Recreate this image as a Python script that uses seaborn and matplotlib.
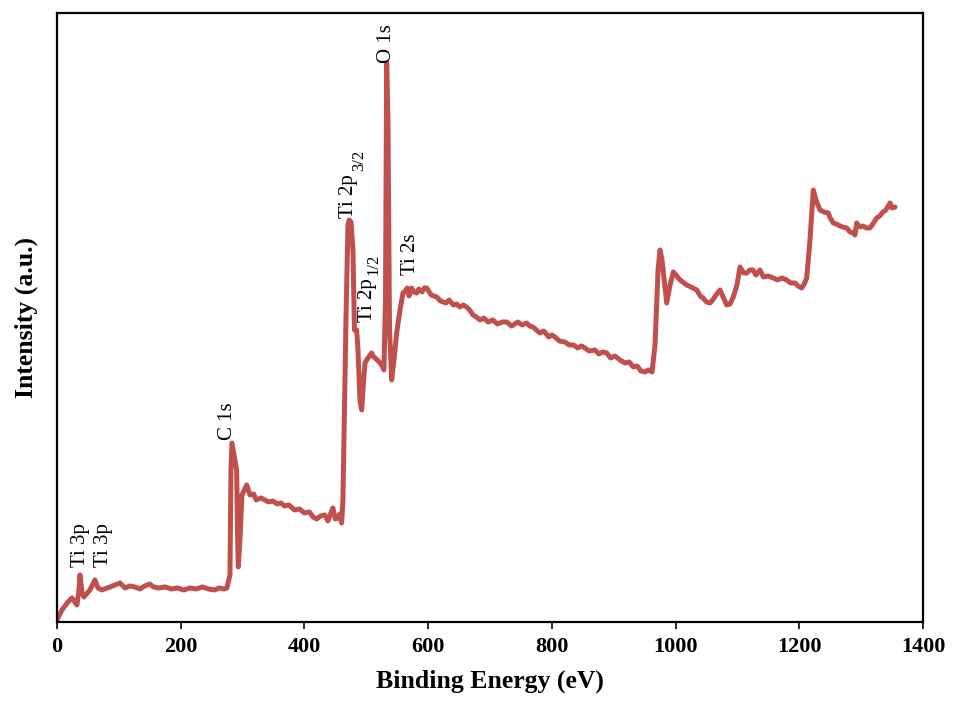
import matplotlib
matplotlib.use("Agg")
import matplotlib.pyplot as plt
import seaborn as sns
import pandas as pd

# Binding energy (eV) and intensity (a.u.)
energy = [0, 8.1, 17.8, 24.2, 32.3, 35.6, 37.2, 40.4, 43.6, 53.3, 61.4, 66.3, 72.7, 85.7,
          101.8, 110, 118, 126, 134, 142, 150, 156, 165, 175, 185, 195, 205, 215, 225, 235,
          245, 255, 262, 270, 274.8, 279.7, 281.3, 282.9,
          286.2, 290.5, 291.8, 293.1, 295.8, 299.1, 306.7, 312, 318, 322, 330, 336, 342, 349,
          356, 362, 368, 375, 384, 392, 400, 408, 414, 420, 426, 433, 438, 446, 450, 454,
          457, 460.2, 462.3, 463.9, 467.2, 470.4, 472.5,
          475.3, 478.5, 480.9, 484.5, 486.6, 489.8, 492.6, 494.7, 497.9, 502.8, 505, 508.7,
          511, 514.1, 518, 522.2, 525, 528.6, 531.1, 533.0, 535.1, 537.6, 541.1, 544.8, 549.2,
          554.5, 559.4, 563, 566.3, 569.1, 573.4, 577, 581.5, 585, 590.1, 594, 597.7, 605,
          613.8, 620, 628.9, 634, 640.7, 646, 651.5, 657, 662.3, 667, 672.5, 678, 683.8, 690,
          697, 704.8, 712, 720, 727, 735, 745.2, 752, 759.3, 764, 769.5, 775, 780.8, 787, 795,
          800, 805.1, 812, 821.2, 828, 834.7, 842, 848, 853.6, 860, 869.8, 876, 882, 888.7,
          895, 902, 910.2, 918, 925, 931.7, 938, 944, 950.6, 956, 962.0, 966.8, 971.7, 974.9,
          978.1, 985.7, 991.1, 996.4, 1007.2, 1018.1, 1025, 1034.2, 1040, 1044.4, 1050, 1055.7,
          1060, 1065.4, 1071.9, 1077, 1082.7, 1088, 1093.3, 1099.3, 1104.2, 1110, 1115.0,
          1120, 1125.2, 1130, 1136.5, 1142, 1150, 1158.0, 1165, 1172, 1179.6, 1186, 1193.1,
          1198, 1203.9, 1208, 1212.0, 1217.3, 1222.7, 1227.0, 1233.5, 1240, 1246.9, 1250,
          1255.0, 1260, 1265.8, 1270, 1276.6, 1282, 1287, 1290.0, 1292.8, 1298, 1303.0, 1308,
          1314.3, 1320, 1325.2, 1330, 1335.4, 1340, 1346.7, 1350, 1354.8]
intensity = [2, 12, 20, 24, 17, 32, 47, 30, 25, 32, 42, 34, 32, 35,
             39, 34, 36, 35, 33, 36, 38, 35, 34, 35, 33, 34, 32, 34, 33, 35,
             33, 32, 34, 33, 34, 47, 152, 179,
             167, 152, 92, 55, 82, 127, 137, 127, 128, 122, 124, 122, 120, 121,
             118, 119, 116, 117, 112, 113, 109, 110, 105, 103, 106, 107, 101, 114, 103, 104,
             108, 99, 122, 182, 302, 397, 402,
             400, 372, 292, 292, 272, 222, 212, 232, 259, 264, 266, 269,
             266, 264, 262, 259, 257, 252, 322, 559, 502, 292, 242, 262, 289,
             312, 329, 331, 334, 326, 334, 330, 329, 333, 330, 334, 334, 327,
             325, 321, 319, 322, 317, 318, 315, 317, 315, 312, 307, 305, 302, 304,
             300, 302, 298, 300, 300, 296, 300, 297, 299, 296, 295, 292, 289, 291, 285,
             287, 285, 281, 280, 277, 277, 274, 276, 274, 271, 272, 268, 270, 269,
             264, 266, 262, 259, 260, 255, 256, 251, 250, 252, 250, 277, 352, 372,
             362, 319, 337, 350, 342, 337, 335, 332, 326, 324, 320, 319,
             322, 327, 332, 325, 317, 318, 325, 337, 355, 349, 349,
             352, 352, 347, 352, 345, 346, 344, 342, 344, 342, 339, 339,
             336, 334, 338, 344, 382, 432, 422, 412, 410, 409, 404,
             399, 398, 396, 395, 394, 390, 389, 387, 399, 395, 396, 394,
             394, 399, 404, 406, 410, 412, 419, 414, 415]

# Peak labels (main text) and their subscripts
peak_labels = ["Ti 3p", "Ti 3p", "C 1s", "Ti 2p", "Ti 2p", "Ti 2s", "O 1s"]
label_x = [38.8, 76, 276.4, 472, 502.7, 571, 533.5]
label_y = [55, 55, 182, 404, 300, 347, 559]
sub_labels = ["3/2", "1/2"]
sub_x = [489, 511]
sub_y = [451, 347]

x_ticks = [0, 200, 400, 600, 800, 1000, 1200, 1400]

df = pd.DataFrame({"Binding Energy (eV)": energy, "Intensity (a.u.)": intensity})

sns.set_style("white")
plt.rcParams["font.family"] = ["Liberation Serif", "DejaVu Serif"]
plt.rcParams["text.color"] = "black"
plt.rcParams["axes.labelcolor"] = "black"
plt.rcParams["xtick.color"] = "black"

fig = plt.figure(figsize=(9.54, 7.02), dpi=100)
ax = fig.add_axes([0.0597, 0.1140, 0.9078, 0.8675])

sns.lineplot(data=df, x="Binding Energy (eV)", y="Intensity (a.u.)", ax=ax,
             color="#C0504D", linewidth=3.6, estimator=None, sort=False)

for t, x, y in zip(peak_labels, label_x, label_y):
    ax.text(x, y, t, rotation=90, ha="center", va="bottom", fontsize=15, color="black")
for t, x, y in zip(sub_labels, sub_x, sub_y):
    ax.text(x, y, t, rotation=90, ha="center", va="bottom", fontsize=12, color="black")

ax.set_xlim(0, 1400)
ax.set_ylim(0, 609)
ax.set_xticks(x_ticks)
ax.set_xticklabels([str(v) for v in x_ticks], fontsize=16, fontweight="bold")
ax.set_yticks([])
ax.tick_params(axis="x", direction="out", length=5, width=1.2, color="black", pad=6,
               bottom=True, labelcolor="black")
ax.set_xlabel("Binding Energy (eV)", fontsize=18.5, fontweight="bold", labelpad=9,
              color="black")
ax.set_ylabel("Intensity (a.u.)", fontsize=18.5, fontweight="bold", labelpad=14,
              color="black")

for s in ax.spines.values():
    s.set_visible(True)
    s.set_color("black")
    s.set_linewidth(1.6)

fig.savefig("out.png", dpi=100)
